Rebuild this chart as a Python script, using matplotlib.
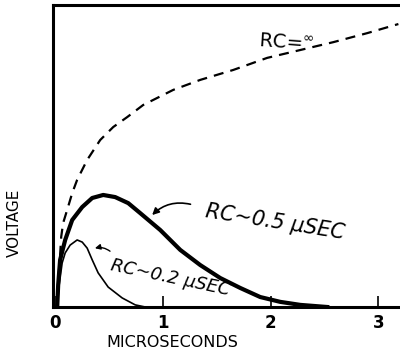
import numpy as np
import matplotlib
matplotlib.use("Agg")
import matplotlib.pyplot as plt

# values (x in microseconds, y as fraction of full height)
t_inf = [0.019, 0.028, 0.046, 0.056, 0.074, 0.111, 0.158, 0.204, 0.297, 0.418, 0.539,
         0.669, 0.817, 1.096, 1.346, 1.653, 1.968, 2.275, 2.581, 2.897, 3.185]
v_inf = [0.0, 0.089, 0.172, 0.232, 0.278, 0.321, 0.377, 0.421, 0.487, 0.553, 0.596,
         0.629, 0.669, 0.719, 0.752, 0.785, 0.825, 0.851, 0.877, 0.907, 0.937]

t_05 = [0.019, 0.028, 0.046, 0.093, 0.158, 0.251, 0.344, 0.446, 0.557, 0.678, 0.789,
        0.975, 1.161, 1.346, 1.532, 1.718, 1.903, 2.089, 2.275, 2.525]
v_05 = [0.0, 0.073, 0.156, 0.222, 0.288, 0.331, 0.361, 0.371, 0.364, 0.344, 0.311,
        0.255, 0.189, 0.139, 0.096, 0.063, 0.033, 0.017, 0.007, 0.0]

t_02 = [0.019, 0.037, 0.065, 0.093, 0.139, 0.204, 0.251, 0.297, 0.344, 0.399, 0.492,
        0.622, 0.743, 0.836]
v_02 = [0.0, 0.073, 0.146, 0.179, 0.205, 0.222, 0.215, 0.195, 0.156, 0.113, 0.066,
        0.030, 0.007, 0.0]

xticks = [0, 1, 2, 3]
xticklabels = ["0", "1", "2", "3"]

fig = plt.figure(figsize=(4.0, 3.53), dpi=100)
ax = fig.add_axes([0.1325, 0.1303, 0.8675, 0.8555])

ax.plot(t_inf, v_inf, color="black", lw=1.6, dashes=(4.5, 3.2))
ax.plot(t_05, v_05, color="black", lw=3.0, solid_joinstyle="round")
ax.plot(t_02, v_02, color="black", lw=1.2, solid_joinstyle="round")

ax.set_xlim(-0.02, 3.2)
ax.set_ylim(0, 1)

for s in ["left", "top", "bottom"]:
    ax.spines[s].set_linewidth(2.2)
ax.spines["right"].set_visible(False)

ax.set_xticks(xticks)
ax.set_xticklabels(xticklabels, fontsize=12, fontweight="bold")
ax.tick_params(axis="x", direction="in", length=8, width=1.2, pad=5)
ax.set_yticks([])

# curve labels
ax.text(2.14, 0.874, "RC=$^{\\infty}$", fontsize=14, rotation=-4,
        ha="center", va="center")
ax.text(2.04, 0.281, "RC~0.5 \u03bcSEC", fontsize=15, style="italic", rotation=-9,
        ha="center", va="center")
ax.text(1.07, 0.096, "RC~0.2 \u03bcSEC", fontsize=13, style="italic", rotation=-12,
        ha="center", va="center")

ax.annotate("", xy=(0.882, 0.298), xytext=(1.281, 0.338),
            arrowprops=dict(arrowstyle="-|>", color="black", lw=1.2,
                            connectionstyle="arc3,rad=0.3", mutation_scale=10))
ax.annotate("", xy=(0.344, 0.192), xytext=(0.529, 0.179),
            arrowprops=dict(arrowstyle="-|>", color="black", lw=1.0,
                            connectionstyle="arc3,rad=0.3", mutation_scale=8))

fig.text(0.035, 0.37, "VOLTAGE", rotation=90, fontsize=11, ha="center", va="center")
fig.text(0.43, 0.03, "MICROSECONDS", fontsize=11.5, ha="center", va="center")

fig.savefig("out.png", dpi=100)
